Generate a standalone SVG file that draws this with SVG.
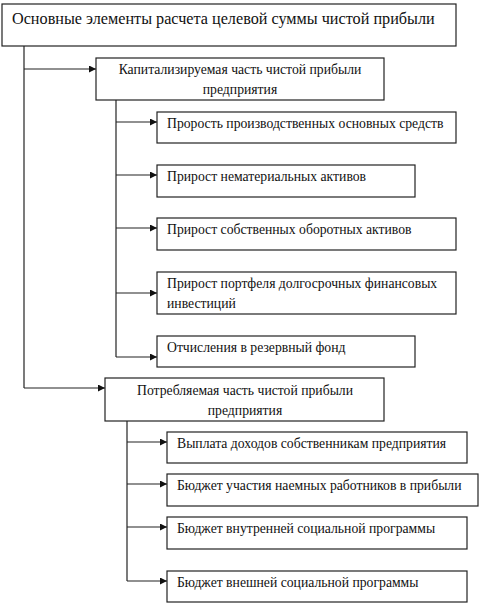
<svg xmlns="http://www.w3.org/2000/svg" width="493" height="611" viewBox="0 0 493 611">
<defs>
<style>
.box{fill:#fff;stroke:#222;stroke-width:1.2}
.t{font-size:13.7px;fill:#111}
.c{text-anchor:middle}
.title{font-size:16.2px;fill:#111}
.ln{fill:none;stroke:#222;stroke-width:1.2}
</style>
<marker id="ah" viewBox="0 0 8 8" refX="8" refY="4" markerWidth="7" markerHeight="7" markerUnits="userSpaceOnUse" orient="auto">
<path d="M0,0 L8,4 L0,8 Z" fill="#111"/>
</marker>
</defs>
<rect width="493" height="611" fill="#fff"/>
<g id="connectors">
<path class="ln" d="M24,46 V388"/>
<path class="ln" d="M24,69 H96" marker-end="url(#ah)"/>
<path class="ln" d="M24,388 H105" marker-end="url(#ah)"/>
<path class="ln" d="M116,100 V357"/>
<path class="ln" d="M116,122 H157" marker-end="url(#ah)"/>
<path class="ln" d="M116,175 H157" marker-end="url(#ah)"/>
<path class="ln" d="M116,228 H157" marker-end="url(#ah)"/>
<path class="ln" d="M116,293 H157" marker-end="url(#ah)"/>
<path class="ln" d="M116,357 H157" marker-end="url(#ah)"/>
<path class="ln" d="M127,421 V581"/>
<path class="ln" d="M127,442 H167" marker-end="url(#ah)"/>
<path class="ln" d="M127,484 H167" marker-end="url(#ah)"/>
<path class="ln" d="M127,527 H167" marker-end="url(#ah)"/>
<path class="ln" d="M127,581 H167" marker-end="url(#ah)"/>
</g>
<g font-family="Liberation Serif, serif">
<g id="root">
<rect class="box" x="2" y="4" width="454" height="42"/>
<text class="title" x="12" y="24">Основные элементы расчета целевой суммы чистой прибыли</text>
</g>
<g id="cap">
<rect class="box" x="96" y="58" width="288" height="42"/>
<text class="t c" x="240" y="74">Капитализируемая часть чистой прибыли</text>
<text class="t c" x="240" y="94">предприятия</text>
</g>
<g id="cap1">
<rect class="box" x="157" y="112" width="299" height="31"/>
<text class="t" x="167" y="128">Прорость производственных основных средств</text>
</g>
<g id="cap2">
<rect class="box" x="157" y="165" width="258" height="32"/>
<text class="t" x="167" y="181">Прирост нематериальных активов</text>
</g>
<g id="cap3">
<rect class="box" x="157" y="218" width="299" height="32"/>
<text class="t" x="167" y="234">Прирост собственных оборотных активов</text>
</g>
<g id="cap4">
<rect class="box" x="157" y="272" width="299" height="42"/>
<text class="t" x="167" y="288">Прирост портфеля долгосрочных финансовых</text>
<text class="t" x="167" y="308">инвестиций</text>
</g>
<g id="cap5">
<rect class="box" x="157" y="336" width="258" height="31"/>
<text class="t" x="167" y="352">Отчисления в резервный фонд</text>
</g>
<g id="cons">
<rect class="box" x="105" y="378" width="279" height="43"/>
<text class="t c" x="245" y="395">Потребляемая часть чистой прибыли</text>
<text class="t c" x="245" y="415">предприятия</text>
</g>
<g id="cons1">
<rect class="box" x="167" y="432" width="300" height="31"/>
<text class="t" x="177" y="448">Выплата доходов собственникам предприятия</text>
</g>
<g id="cons2">
<rect class="box" x="167" y="474" width="311" height="32"/>
<text class="t" x="177" y="490">Бюджет участия наемных работников в прибыли</text>
</g>
<g id="cons3">
<rect class="box" x="167" y="517" width="300" height="32"/>
<text class="t" x="177" y="533">Бюджет внутренней социальной программы</text>
</g>
<g id="cons4">
<rect class="box" x="167" y="571" width="300" height="31"/>
<text class="t" x="177" y="587">Бюджет внешней социальной программы</text>
</g>
</g>
</svg>
